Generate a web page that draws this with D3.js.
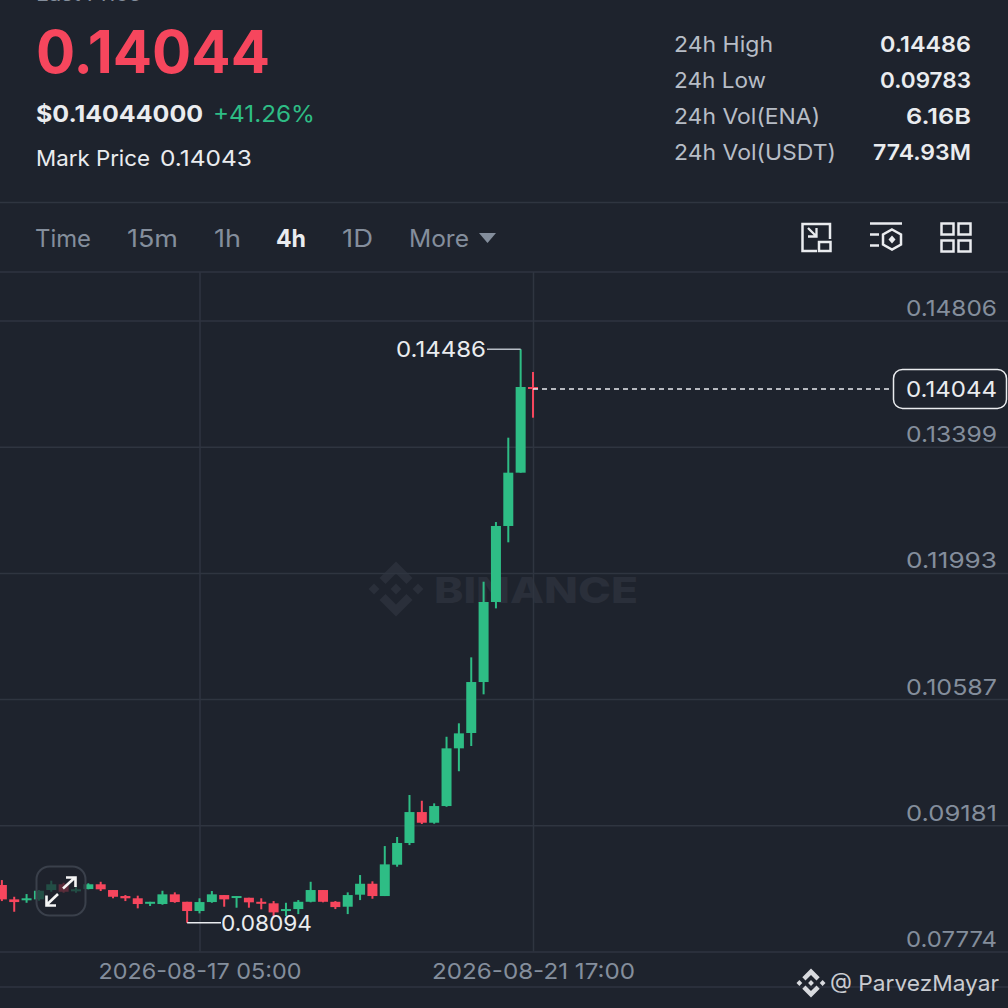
<html>
    <head>
        <title>ENA/USDT 4h</title>
        <style>
            html, body { margin: 0; padding: 0; background-color: #1e232d; overflow: hidden; }
            svg { display: block; }
            text { font-family: Inter, "Noto Sans", sans-serif; }
        </style>
    </head>
    <body>
        <svg id="chart" width="1008" height="1008"></svg>
        <script src="https://d3js.org/d3.v7.min.js"></script>
        <script>
            // candle values, oldest first, one candle every 4h
            const FIRST_CANDLE = "2026-08-14T13:00:00Z";
            const opens = [0.08515,0.08355,0.08347,0.08355,0.08459,0.08523,0.08448,0.08470,0.08523,0.08459,0.08392,0.08367,0.08311,0.08303,0.08411,0.08328,0.08225,0.08325,0.08403,0.08378,0.08373,0.08328,0.08311,0.08225,0.08247,0.08328,0.08459,0.08328,0.08273,0.08407,0.08529,0.08392,0.08741,0.08983,0.09328,0.09209,0.09395,0.10038,0.10209,0.10777,0.11669,0.12516,0.13110,0.14065];
            const highs = [0.08570,0.08384,0.08414,0.08459,0.08563,0.08540,0.08504,0.08534,0.08551,0.08459,0.08403,0.08396,0.08328,0.08451,0.08433,0.08328,0.08367,0.08448,0.08403,0.08392,0.08373,0.08367,0.08336,0.08317,0.08347,0.08551,0.08459,0.08336,0.08433,0.08626,0.08556,0.08949,0.09050,0.09518,0.09454,0.09425,0.10167,0.10317,0.11052,0.11895,0.12560,0.13500,0.14486,0.14232];
            const lows = [0.08336,0.08217,0.08317,0.08340,0.08440,0.08429,0.08429,0.08467,0.08448,0.08367,0.08336,0.08255,0.08281,0.08295,0.08317,0.08094,0.08199,0.08317,0.08273,0.08262,0.08262,0.08244,0.08161,0.08169,0.08191,0.08322,0.08322,0.08247,0.08191,0.08347,0.08362,0.08392,0.08719,0.08960,0.09195,0.09198,0.09387,0.09783,0.10064,0.10640,0.11598,0.12334,0.13110,0.13723];
            const closes = [0.08355,0.08325,0.08367,0.08451,0.08523,0.08440,0.08467,0.08523,0.08467,0.08384,0.08367,0.08303,0.08328,0.08411,0.08325,0.08225,0.08325,0.08411,0.08355,0.08392,0.08322,0.08311,0.08210,0.08247,0.08328,0.08459,0.08328,0.08269,0.08403,0.08529,0.08392,0.08745,0.08983,0.09328,0.09209,0.09395,0.10038,0.10205,0.10777,0.11669,0.12516,0.13110,0.14065,0.14044];

            const priceTicks = [0.14806,0.13399,0.11993,0.10587,0.09181,0.07774];
            const timeTicks = ["2026-08-17T05:00:00Z","2026-08-21T17:00:00Z"];
            const lastPrice = 0.14044;
            const highPrice = 0.14486;
            const lowPrice = 0.08094;

            const statLabels = ["24h High","24h Low","24h Vol(ENA)","24h Vol(USDT)"];
            const statLabelW = [99,92,146,162];
            const statValues = ["0.14486","0.09783","6.16B","774.93M"];
            const statValueW = [91,91,65,98];
            const intervals = ["Time","15m","1h","4h","1D","More"];
            const intervalX = [35,127,214,276,342,409];
            const intervalW = [56,51,27,30,31,60];

            const GREEN = "#2ebd85", RED = "#f6465d", GRID = "#2f3540", GREY = "#848e9c", LIGHT = "#eaecef";

            const times = opens.map((d, i) => d3.utcHour.offset(new Date(FIRST_CANDLE), i * 4));
            const candles = opens.map((o, i) => ({t: times[i], o: o, h: highs[i], l: lows[i], c: closes[i]}));

            const x = d3.scaleUtc().domain([new Date(timeTicks[0]), new Date(timeTicks[1])]).range([199.5, 533]);
            const y = d3.scaleLinear().domain([0.07774, 0.14806]).range([951.5, 320.5]);
            const fmtTime = d3.utcFormat("%Y-%m-%d %H:%M");

            const svg = d3.select("#chart");

            function label(txt, px, py, size, fill, weight, anchor, width) {
                const t = svg.append("text").attr("x", px).attr("y", py).attr("font-size", size)
                    .attr("fill", fill).attr("font-weight", weight || 400)
                    .attr("text-anchor", anchor || "start").text(txt);
                if (width) t.attr("textLength", width).attr("lengthAdjust", "spacingAndGlyphs");
                return t;
            }

            function logo(parent, cx, cy, s, fill) {
                const shapes = [
                    [[0,-10],[6,-4],[3.8,-1.8],[0,-5.6],[-3.8,-1.8],[-6,-4]],
                    [[0,10],[6,4],[3.8,1.8],[0,5.6],[-3.8,1.8],[-6,4]],
                    [[0,-2],[2,0],[0,2],[-2,0]],
                    [[-10,0],[-8,-2],[-6,0],[-8,2]],
                    [[10,0],[8,-2],[6,0],[8,2]]
                ];
                parent.append("g").attr("transform", "translate(" + cx + "," + cy + ") scale(" + s + ")")
                    .selectAll("polygon").data(shapes).join("polygon")
                    .attr("points", d => d.join(" ")).attr("fill", fill);
            }

            // header
            label("Last Price", 36, 1, 20, GREY, 400, "start", 105);
            label("0.14044", 36, 73, 59, RED, 700, "start", 234);
            label("$0.14044000", 36, 122, 23, LIGHT, 700, "start", 167);
            label("+41.26%", 213, 122, 23, GREEN, 400, "start", 102);
            label("Mark Price", 36, 166, 22, LIGHT, 400, "start", 114);
            label("0.14043", 160, 166, 22, LIGHT, 400, "start", 92);

            statLabels.forEach((d, i) => {
                label(d, 674, 52 + i * 36, 22, "#b7bdc6", 400, "start", statLabelW[i]);
                label(statValues[i], 971, 52 + i * 36, 22, LIGHT, 600, "end", statValueW[i]);
            });

            svg.append("line").attr("x1", 0).attr("x2", 1008).attr("y1", 202.5).attr("y2", 202.5).attr("stroke", GRID).attr("stroke-width", 1.5);
            svg.append("line").attr("x1", 0).attr("x2", 1008).attr("y1", 272).attr("y2", 272).attr("stroke", GRID).attr("stroke-width", 1.5);
            svg.append("line").attr("x1", 0).attr("x2", 1008).attr("y1", 987).attr("y2", 987).attr("stroke", GRID).attr("stroke-width", 1.5);

            intervals.forEach((d, i) => {
                label(d, intervalX[i], 247, 24, d === "4h" ? LIGHT : GREY, d === "4h" ? 700 : 400, "start", intervalW[i]);
            });
            svg.append("polygon").attr("points", "479,233 496,233 487.5,243").attr("fill", GREY);

            // toolbar icons
            const icons = svg.append("g").attr("fill", "none").attr("stroke", LIGHT).attr("stroke-width", 2.5);
            icons.append("path").attr("d", "M817,251 H802.5 V224 H830 V239");
            icons.append("rect").attr("x", 819).attr("y", 242).attr("width", 11.5).attr("height", 9);
            icons.append("path").attr("d", "M808,228 L816,236 M808,236.5 H816.5 V228").attr("stroke-width", 2.3);
            icons.append("path").attr("d", "M870,223.5 H902 M870,234.5 H879 M870,245.5 H879");
            icons.append("path").attr("d", "M892,229.5 L901,234.5 V244.5 L892,249.5 L883,244.5 V234.5 Z");
            icons.append("path").attr("d", "M892,235.5 L895.5,239.5 L892,243.5 L888.5,239.5 Z").attr("fill", LIGHT).attr("stroke", "none");
            [941.5, 958.5].forEach(ix => [223.5, 240.5].forEach(iy => {
                icons.append("rect").attr("x", ix).attr("y", iy).attr("width", 12).attr("height", 11);
            }));

            // watermark
            logo(svg, 396, 589, 2.75, "#2a2f3a");
            svg.append("text").attr("x", 434).attr("y", 603).attr("font-size", 36).attr("font-weight", 800)
                .attr("textLength", 204).attr("lengthAdjust", "spacingAndGlyphs").attr("fill", "#2a2f3a").text("BINANCE");

            // grid and axes
            const yAxis = d3.axisLeft(y).tickValues(priceTicks).tickSize(1008).tickFormat(d3.format(".5f"));
            const gy = svg.append("g").attr("transform", "translate(1008,0)").call(yAxis);
            gy.select(".domain").remove();
            gy.selectAll("line").attr("stroke", GRID).attr("stroke-width", 1.5);
            gy.selectAll("text").attr("x", -11).attr("dy", "-5").attr("text-anchor", "end")
                .attr("font-size", 22).attr("font-family", "Inter").attr("fill", GREY)
                .attr("textLength", 91).attr("lengthAdjust", "spacingAndGlyphs");

            const xAxis = d3.axisBottom(x).tickValues(timeTicks.map(d => new Date(d))).tickSize(-679.5).tickFormat(fmtTime);
            const gx = svg.append("g").attr("transform", "translate(0,951.5)").call(xAxis);
            gx.select(".domain").remove();
            gx.selectAll("line").attr("stroke", GRID).attr("stroke-width", 1.5);
            gx.selectAll("text").attr("y", 27).attr("dy", 0).attr("font-size", 22)
                .attr("font-family", "Inter").attr("fill", GREY)
                .attr("textLength", 203).attr("lengthAdjust", "spacingAndGlyphs");

            // candles
            const bodyW = 10;
            const marks = svg.append("g").selectAll("g").data(candles).join("g")
                .attr("fill", d => d.c >= d.o ? GREEN : RED);
            marks.append("rect").attr("x", d => x(d.t) - 1).attr("width", 2)
                .attr("y", d => y(d.h)).attr("height", d => y(d.l) - y(d.h));
            marks.append("rect").attr("x", d => x(d.t) - bodyW / 2).attr("width", bodyW)
                .attr("y", d => y(Math.max(d.o, d.c)))
                .attr("height", d => Math.max(2, Math.abs(y(d.o) - y(d.c))));

            // last price line and box
            const lastY = y(lastPrice);
            svg.append("line").attr("x1", x(times[times.length - 1])).attr("x2", 893)
                .attr("y1", lastY).attr("y2", lastY)
                .attr("stroke", LIGHT).attr("stroke-width", 1.5).attr("stroke-dasharray", "5,4");
            svg.append("rect").attr("x", 893.5).attr("y", lastY - 19.5).attr("width", 113).attr("height", 39)
                .attr("rx", 9).attr("fill", "#1e232d").attr("stroke", LIGHT).attr("stroke-width", 1.5);
            label(d3.format(".5f")(lastPrice), 997, lastY + 8, 22, LIGHT, 400, "end", 91);

            // high and low callouts
            const highCandle = candles.find(d => d.h === highPrice);
            const lowCandle = candles.find(d => d.l === lowPrice);
            svg.append("polyline").attr("fill", "none").attr("stroke", "#b7bdc6").attr("stroke-width", 1.5)
                .attr("points", [[487, y(highPrice)], [x(highCandle.t), y(highPrice)]].join(" "));
            label(d3.format(".5f")(highPrice), 486, y(highPrice) + 8, 22, LIGHT, 400, "end", 90);
            svg.append("polyline").attr("fill", "none").attr("stroke", LIGHT).attr("stroke-width", 1.5)
                .attr("points", [[x(lowCandle.t), y(lowPrice)], [221, y(lowPrice)]].join(" "));
            label(d3.format(".5f")(lowPrice), 221, y(lowPrice) + 8, 22, LIGHT, 400, "start", 91);

            // expand button over the candles
            svg.append("rect").attr("x", 36.5).attr("y", 866.5).attr("width", 49).attr("height", 49).attr("rx", 13)
                .attr("fill", "#1e232d").attr("fill-opacity", 0.72).attr("stroke", "#3a404b").attr("stroke-width", 2);
            const arrows = svg.append("g").attr("fill", "none").attr("stroke", "#f5f5f5").attr("stroke-width", 2.6);
            arrows.append("path").attr("d", "M63,888.5 L75,877.5 M66,877.5 H75.5 V887");
            arrows.append("path").attr("d", "M58,894 L46.5,905 M46.5,895.5 V905.5 H56");

            // signature
            logo(svg, 811, 983, 1.45, "#d8dade");
            svg.append("text").attr("x", 830).attr("y", 991).attr("font-size", 22).attr("font-family", "Noto Sans")
                .attr("fill", "#c9ccd1").attr("textLength", 169).attr("lengthAdjust", "spacingAndGlyphs").text("@ ParvezMayar");
        </script>
    </body>
</html>
